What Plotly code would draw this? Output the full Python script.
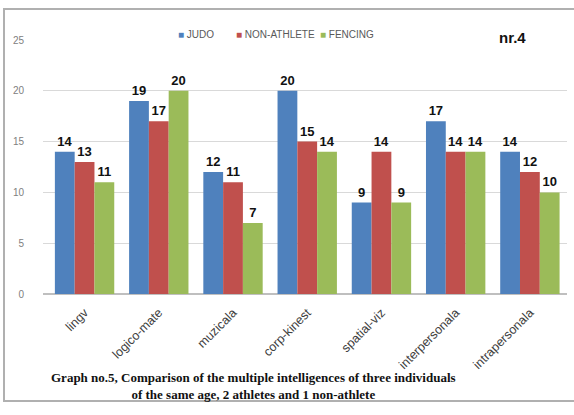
import plotly.graph_objects as go

categories = ["lingv", "logico-mate", "muzicala", "corp-kinest", "spatial-viz",
              "interpersonala", "intrapersonala"]
judo = [14, 19, 12, 20, 9, 17, 14]
non_athlete = [13, 17, 11, 15, 14, 14, 12]
fencing = [11, 20, 7, 14, 9, 14, 10]

series = [
    ("JUDO", judo, "#4F81BD"),
    ("NON-ATHLETE", non_athlete, "#C0504D"),
    ("FENCING", fencing, "#9BBB59"),
]

W, H = 574, 415
L, R, T, B = 43, 7, 40, 121
pw, ph = W - L - R, H - T - B

def px(x):
    return (x - L) / pw

def py(y):
    return (H - B - y) / ph

fig = go.Figure()
for name, vals, col in series:
    fig.add_trace(go.Bar(
        x=categories, y=vals, name=name,
        marker=dict(color=col, line=dict(width=0)),
        texttemplate="<b>%{y}</b>", textposition="outside",
        textfont=dict(family="Liberation Sans, Arial", size=13, color="#111111"),
        cliponaxis=False, showlegend=False,
    ))

fig.update_layout(
    width=W, height=H,
    margin=dict(l=L, r=R, t=T, b=B),
    paper_bgcolor="white", plot_bgcolor="white",
    barmode="group", bargap=0.2, bargroupgap=0,
    font=dict(family="Liberation Sans, Arial", color="#595959"),
    showlegend=False,
)
fig.update_xaxes(
    range=[-0.56, 6.5], tickangle=-45, showgrid=False,
    showline=False, ticks="", ticklabelstandoff=8,
    tickfont=dict(size=12.5, color="#404040"),
)
fig.update_yaxes(
    range=[0, 25], dtick=5, showgrid=True, gridcolor="#d9d9d9", gridwidth=1,
    zeroline=True, zerolinecolor="#bfbfbf", zerolinewidth=2,
    tickfont=dict(size=10, color="#808080"), ticklabelstandoff=18, ticks="",
)

# legend row: coloured square followed by series name
legend_x = [176, 234, 318]
for (name, vals, col), lx in zip(series, legend_x):
    fig.add_annotation(
        text=f'<span style="color:{col}">■</span> {name}',
        xref="paper", yref="paper", x=px(lx), y=py(34),
        xanchor="left", yanchor="middle", showarrow=False,
        font=dict(family="Liberation Sans Narrow, Liberation Sans, Arial",
                  size=10, color="#595959"),
    )

# outer frame of the chart
fig.add_shape(type="rect", xref="paper", yref="paper",
              x0=px(4), x1=px(576), y0=py(401), y1=py(9),
              line=dict(color="#b0b0b0", width=2), layer="below")

fig.add_annotation(text="<b>nr.4</b>", xref="paper", yref="paper",
                   x=px(512), y=py(37), xanchor="center", yanchor="middle",
                   showarrow=False,
                   font=dict(family="Liberation Sans, Arial", size=15, color="#111111"))

fig.add_annotation(
    text="<b>Graph no.5, Comparison of the multiple intelligences of three individuals<br>"
         "of the same age, 2 athletes and 1 non-athlete</b>",
    xref="paper", yref="paper", x=px(253), y=py(386),
    xanchor="center", yanchor="middle", showarrow=False,
    align="center",
    font=dict(family="Liberation Serif, Times New Roman", size=13, color="#111111"),
)

fig.write_html("out.html")
